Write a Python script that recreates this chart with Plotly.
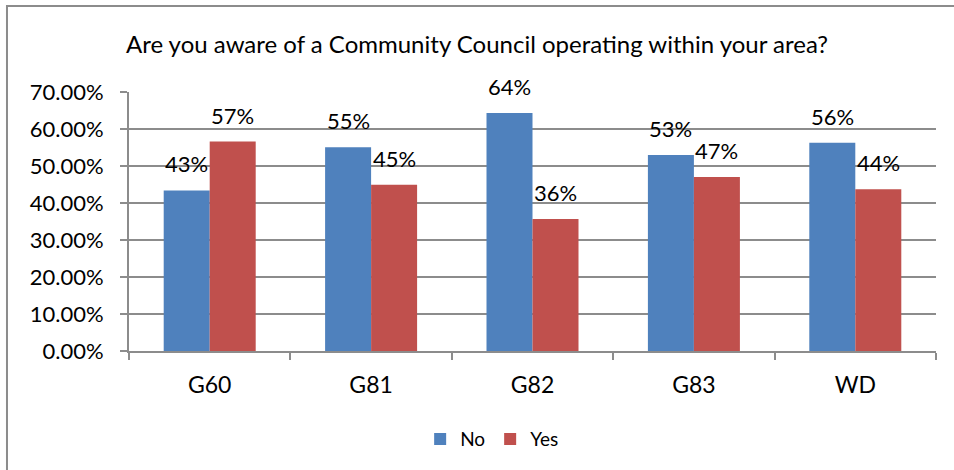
import plotly.graph_objects as go

# Survey results by area
categories = ["G60", "G81", "G82", "G83", "WD"]
no_share = [0.434, 0.551, 0.643, 0.530, 0.563]
yes_share = [0.566, 0.449, 0.357, 0.470, 0.437]
y_ticks = [0.0, 0.1, 0.2, 0.3, 0.4, 0.5, 0.6, 0.7]
title_text = "Are you aware of a Community Council operating within your area?"

FONT = "Lato"
BLUE = "#4F81BD"
RED = "#C0504D"
GRID = "#8C8C8C"
BARGAP = 0.43

fig = go.Figure()
fig.add_trace(go.Bar(name="No", x=categories, y=no_share, marker=dict(color=BLUE, line=dict(width=0))))
fig.add_trace(go.Bar(name="Yes", x=categories, y=yes_share, marker=dict(color=RED, line=dict(width=0))))

# Value labels above each bar (bar centres sit a quarter group-width either side)
half = (1 - BARGAP) / 4
for shift, vals in ((-half, no_share), (half, yes_share)):
    for i, v in enumerate(vals):
        fig.add_annotation(
            x=i + shift, y=v, xref="x", yref="y",
            text=f"{v:.0%}", showarrow=False,
            yanchor="bottom", yshift=11,
            font=dict(family=FONT, size=22, color="#000000"),
        )

# Outer chart frame
fig.add_shape(type="rect", xref="paper", yref="paper",
              x0=-0.1512, x1=1.03, y0=-0.6, y1=1.332,
              line=dict(color="#8C8C8C", width=2), fillcolor="rgba(0,0,0,0)", layer="below")

fig.update_layout(
    width=954, height=470,
    margin=dict(l=129, r=18, t=92, b=119),
    paper_bgcolor="white", plot_bgcolor="white",
    barmode="group", bargap=BARGAP, bargroupgap=0,
    title=dict(text=title_text, x=0.5, xref="container", xanchor="center",
               y=1 - 45 / 470, yanchor="middle", yref="container",
               font=dict(family=FONT, size=24, color="#000000")),
    legend=dict(orientation="h", x=0.45, xanchor="center", y=-0.34, yanchor="middle",
                font=dict(family=FONT, size=19, color="#000000"), traceorder="normal",
                itemwidth=30),
    showlegend=True,
)
fig.update_xaxes(
    type="category", showgrid=False, showline=True, linecolor=GRID, linewidth=2,
    ticks="outside", ticklen=7, tickcolor=GRID, tickwidth=2, tickson="boundaries",
    tickfont=dict(family=FONT, size=23, color="#000000"), ticklabelstandoff=12,
)
fig.update_yaxes(
    range=[0, 0.7], tickvals=y_ticks, tickformat=".2%",
    showgrid=True, gridcolor=GRID, gridwidth=2,
    showline=True, linecolor=GRID, linewidth=2,
    ticks="outside", ticklen=7, tickcolor=GRID, tickwidth=2,
    tickfont=dict(family=FONT, size=22, color="#000000"), zeroline=False,
    ticklabelstandoff=12,
)

fig.write_html("out.html")
